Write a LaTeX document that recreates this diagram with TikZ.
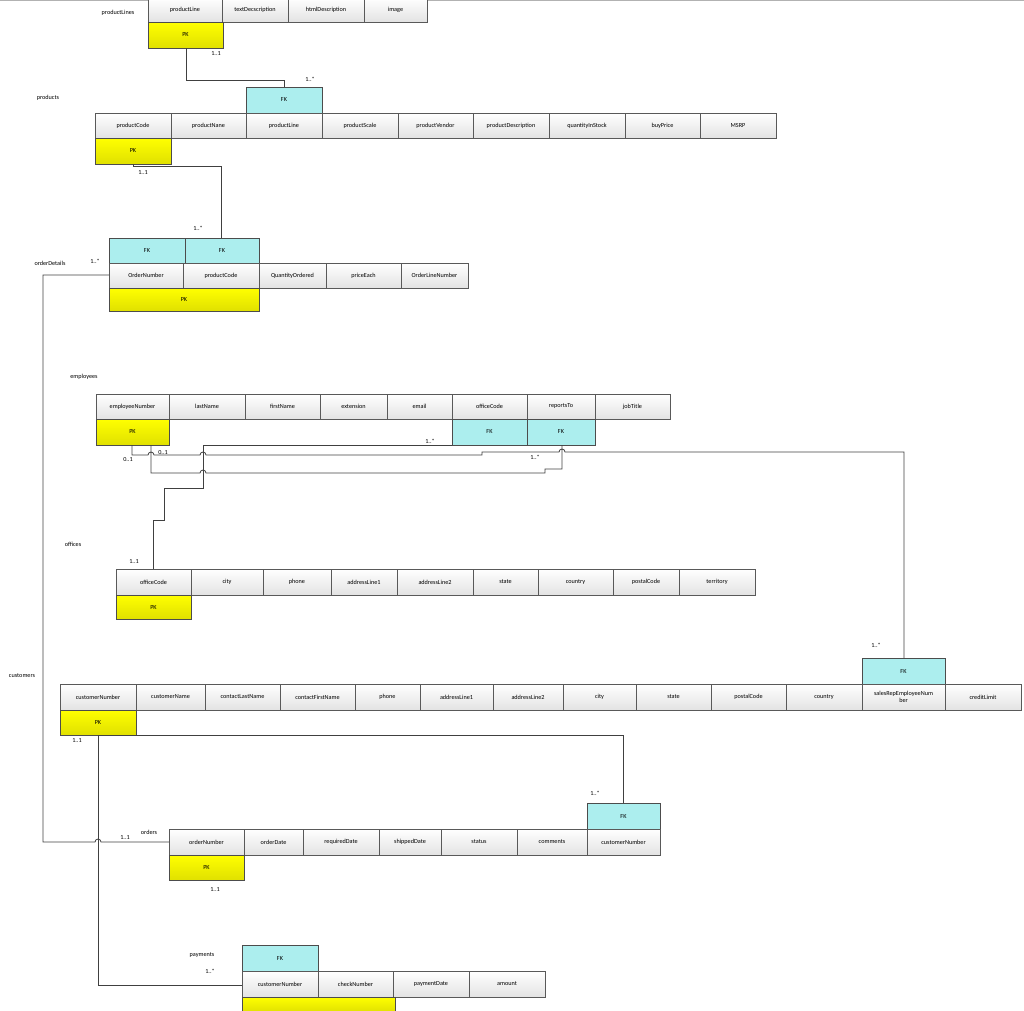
\documentclass[tikz,border=0pt]{standalone}
\usepackage{fontspec}
\setmainfont{Carlito}
\definecolor{fkc}{RGB}{172,238,238}
\begin{document}
\begin{tikzpicture}[x=1pt,y=-1pt,
  cb/.style={draw=gray!70!black,line width=0.6pt,top color=white,bottom color=gray!22},
  pk/.style={draw=gray!60!black,line width=0.8pt,top color=yellow,bottom color=yellow!88!black},
  fk/.style={draw=gray!60!black,line width=0.8pt,fill=fkc},
  lbl/.style={font=\fontsize{6.2}{6.6}\selectfont,inner sep=0pt,align=center},
  tl/.style={font=\fontsize{6.2}{6.6}\selectfont,inner sep=0pt},
  conn/.style={draw=black!75,line width=0.8pt}]
\useasboundingbox (0,0) rectangle (1024,1010);
\draw[gray!60,line width=2pt] (0,0) -- (1024,0);
\newcommand\ec[7]{\path[#1] (#3,#4) rectangle (#5,#6); \node[lbl] (#2) at ({(#3+#5)/2},{(#4+#6)/2}) {#7};}
% productLines
\node[tl] (tPL) at (118,13) {productLines};
\ec{cb}{plA}{148}{-2}{222}{22}{productLine}
\ec{cb}{plB}{222}{-2}{288}{22}{textDecscription}
\ec{cb}{plC}{288}{-2}{364}{22}{htmlDescription}
\ec{cb}{plD}{364}{-2}{427}{22}{image}
\ec{pk}{plPK}{148}{22}{223}{48}{PK}
% products
\node[tl] (tP) at (48,98) {products};
\ec{fk}{pFK}{246}{87}{322}{113}{FK}
\ec{cb}{pA}{95}{113}{171}{138}{productCode}
\ec{cb}{pB}{171}{113}{246}{138}{productNane}
\ec{cb}{pC}{246}{113}{322}{138}{productLine}
\ec{cb}{pD}{322}{113}{398}{138}{productScale}
\ec{cb}{pE}{398}{113}{473}{138}{productVendor}
\ec{cb}{pF}{473}{113}{549}{138}{productDescription}
\ec{cb}{pG}{549}{113}{625}{138}{quantityInStock}
\ec{cb}{pH}{625}{113}{700}{138}{buyPrice}
\ec{cb}{pI}{700}{113}{776}{138}{MSRP}
\ec{pk}{pPK}{95}{138}{171}{164}{PK}
% orderDetails
\node[tl] (tOD) at (50,263) {orderDetails};
\ec{fk}{odFK1}{109}{238}{185}{263}{FK}
\ec{fk}{odFK2}{185}{238}{259}{263}{FK}
\ec{cb}{odA}{109}{263}{183}{288}{OrderNumber}
\ec{cb}{odB}{183}{263}{259}{288}{productCode}
\ec{cb}{odC}{259}{263}{326}{288}{QuantityOrdered}
\ec{cb}{odD}{326}{263}{401}{288}{priceEach}
\ec{cb}{odE}{401}{263}{468}{288}{OrderLineNumber}
\ec{pk}{odPK}{109}{288}{259}{311}{PK}
% employees
\node[tl] (tE) at (84,377) {employees};
\ec{cb}{eA}{96}{394}{169}{419}{employeeNumber}
\ec{cb}{eB}{169}{394}{245}{419}{lastName}
\ec{cb}{eC}{245}{394}{320}{419}{firstName}
\ec{cb}{eD}{320}{394}{387}{419}{extension}
\ec{cb}{eE}{387}{394}{452}{419}{email}
\ec{cb}{eF}{452}{394}{527}{419}{officeCode}
\ec{cb}{eG}{527}{394}{595}{419}{reportsTo}
\ec{cb}{eH}{595}{394}{670}{419}{jobTitle}
\ec{pk}{ePK}{96}{419}{169}{445}{PK}
\ec{fk}{eFK1}{452}{419}{527}{445}{FK}
\ec{fk}{eFK2}{527}{419}{595}{445}{FK}
% offices
\node[tl] (tO) at (73,544) {offices};
\ec{cb}{oA}{116}{569}{191}{595}{officeCode}
\ec{cb}{oB}{191}{569}{263}{595}{city}
\ec{cb}{oC}{263}{569}{331}{595}{phone}
\ec{cb}{oD}{331}{569}{397}{595}{addressLine1}
\ec{cb}{oE}{397}{569}{473}{595}{addressLine2}
\ec{cb}{oF}{473}{569}{538}{595}{state}
\ec{cb}{oG}{538}{569}{613}{595}{country}
\ec{cb}{oH}{613}{569}{679}{595}{postalCode}
\ec{cb}{oI}{679}{569}{755}{595}{territory}
\ec{pk}{oPK}{116}{595}{191}{619}{PK}
% customers
\node[tl] (tC) at (22,676) {customers};
\ec{fk}{cFK}{862}{658}{945}{684}{FK}
\ec{cb}{cA}{60}{684}{136}{710}{customerNumber}
\ec{cb}{cB}{136}{684}{205}{710}{customerName}
\ec{cb}{cC}{205}{684}{280}{710}{contactLastName}
\ec{cb}{cD}{280}{684}{355}{710}{contactFirstName}
\ec{cb}{cE}{355}{684}{420}{710}{phone}
\ec{cb}{cF}{420}{684}{493}{710}{addressLine1}
\ec{cb}{cG}{493}{684}{563}{710}{addressLine2}
\ec{cb}{cH}{563}{684}{636}{710}{city}
\ec{cb}{cI}{636}{684}{711}{710}{state}
\ec{cb}{cJ}{711}{684}{786}{710}{postalCode}
\ec{cb}{cK}{786}{684}{862}{710}{country}
\ec{cb}{cL}{862}{684}{945}{710}{salesRepEmployeeNum\\ber}
\ec{cb}{cM}{945}{684}{1021}{710}{creditLimit}
\ec{pk}{cPK}{60}{710}{136}{735}{PK}
% orders
\node[tl] (tOr) at (149,832) {orders};
\ec{fk}{orFK}{587}{803}{660}{829}{FK}
\ec{cb}{orA}{169}{829}{244}{855}{orderNumber}
\ec{cb}{orB}{244}{829}{303}{855}{orderDate}
\ec{cb}{orC}{303}{829}{379}{855}{requiredDate}
\ec{cb}{orD}{379}{829}{441}{855}{shippedDate}
\ec{cb}{orE}{441}{829}{517}{855}{status}
\ec{cb}{orF}{517}{829}{587}{855}{comments}
\ec{cb}{orG}{587}{829}{660}{855}{customerNumber}
\ec{pk}{orPK}{169}{855}{244}{880}{PK}
% payments
\node[tl] (tPa) at (202,955) {payments};
\ec{fk}{paFK}{242}{945}{318}{971}{FK}
\ec{cb}{paA}{242}{971}{318}{997}{customerNumber}
\ec{cb}{paB}{318}{971}{393}{997}{checkNumber}
\ec{cb}{paC}{393}{971}{469}{997}{paymentDate}
\ec{cb}{paD}{469}{971}{545}{997}{amount}
\ec{pk}{paPK}{242}{997}{395}{1012}{}
% connectors
\draw[conn] (186,48) -- (186,80) -- (284,80) -- (284,87);
\draw[conn] (133,164) -- (133,166) -- (221,166) -- (221,238);
\draw[conn] (109,275) -- (43,275) -- (43,842) -- (95,842) arc(180:360:3) -- (169,842);
\draw[conn] (132,445) -- (132,455) -- (148,455) arc(180:360:3) -- (200,455) arc(180:360:3) -- (482,455) -- (482,452) -- (559,452) arc(180:360:3) -- (904,452) -- (904,658);
\draw[conn] (562,445) -- (562,469) -- (545,469) -- (545,473) -- (206,473) arc(360:180:3) -- (151,473) -- (151,445);
\draw[conn] (452,445) -- (203,445) -- (203,488) -- (164,488) -- (164,520) -- (153,520) -- (153,569);
\draw[conn] (98,735) -- (623,735) -- (623,803);
\draw[conn] (98,735) -- (98,985) -- (242,985);
% labels
\node[tl] at (216,54) {1..1};
\node[tl] at (310,79) {1..*};
\node[tl] at (143,173) {1..1};
\node[tl] at (198,228) {1..*};
\node[tl] at (95,261) {1..*};
\node[tl] at (125,838) {1..1};
\node[tl] at (430,441) {1..*};
\node[tl] at (535,457) {1..*};
\node[tl] at (128,460) {0..1};
\node[tl] at (163,453) {0..1};
\node[tl] at (134,562) {1..1};
\node[tl] at (876,645) {1..*};
\node[tl] at (77,741) {1..1};
\node[tl] at (595,793) {1..*};
\node[tl] at (215,890) {1..1};
\node[tl] at (210,971) {1..*};
\end{tikzpicture}
\end{document}
